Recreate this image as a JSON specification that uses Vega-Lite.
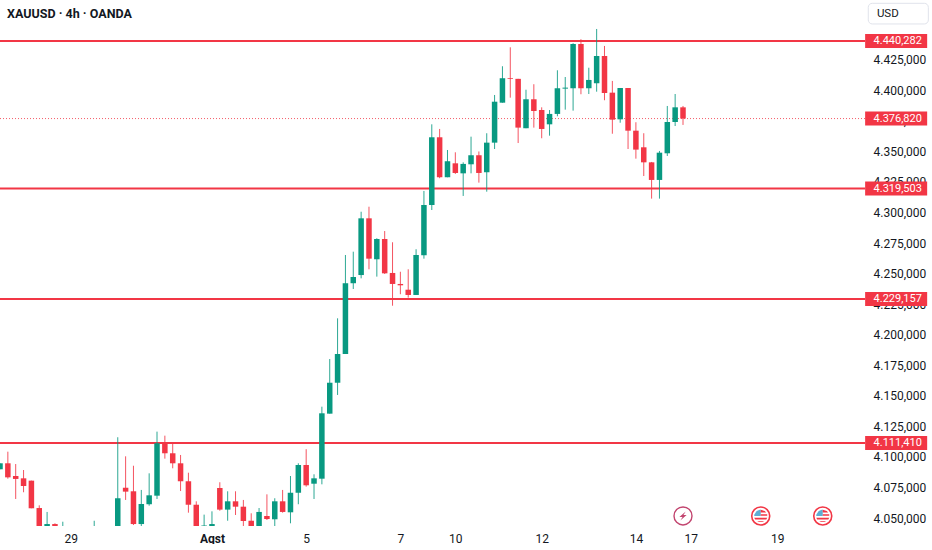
{
  "$schema": "https://vega.github.io/schema/vega-lite/v6.json",
  "width": 862,
  "height": 526,
  "padding": {"left": -1, "top": 0, "right": 0, "bottom": 0},
  "autosize": {"type": "pad"},
  "background": "#ffffff",
  "config": {"view": {"stroke": null}, "font": "Roboto"},
  "resolve": {"axis": {"x": "independent", "y": "independent"}},
  "datasets": {
    "candles": [
      {"i":0,"open":4089.9,"high":4094.8,"low":4089.9,"close":4094.8},
      {"i":1,"open":4094.8,"high":4104.3,"low":4082.2,"close":4083.3},
      {"i":2,"open":4084.4,"high":4094.2,"low":4065.6,"close":4082.0},
      {"i":3,"open":4082.5,"high":4089.3,"low":4071.1,"close":4076.2},
      {"i":4,"open":4080.6,"high":4080.6,"low":4058.0,"close":4058.0},
      {"i":5,"open":4058.2,"high":4060.4,"low":4039.4,"close":4041.9},
      {"i":6,"open":4041.9,"high":4055.0,"low":4041.0,"close":4045.1},
      {"i":7,"open":4045.1,"high":4045.7,"low":4041.0,"close":4041.9},
      {"i":8,"open":4037.0,"high":4047.0,"low":4035.3,"close":4040.2},
      {"i":12,"open":4036.1,"high":4047.8,"low":4034.5,"close":4039.4},
      {"i":15,"open":4038.6,"high":4116.1,"low":4037.0,"close":4066.2},
      {"i":16,"open":4074.8,"high":4100.5,"low":4064.8,"close":4071.6},
      {"i":17,"open":4071.9,"high":4092.8,"low":4044.3,"close":4045.1},
      {"i":18,"open":4045.1,"high":4073.0,"low":4042.9,"close":4061.5},
      {"i":19,"open":4061.3,"high":4086.6,"low":4060.1,"close":4068.6},
      {"i":20,"open":4068.3,"high":4120.7,"low":4065.6,"close":4111.2},
      {"i":21,"open":4111.2,"high":4117.4,"low":4098.6,"close":4103.0},
      {"i":22,"open":4103.0,"high":4111.2,"low":4090.7,"close":4094.8},
      {"i":23,"open":4094.8,"high":4101.6,"low":4072.1,"close":4080.1},
      {"i":24,"open":4080.1,"high":4087.1,"low":4054.4,"close":4060.9},
      {"i":25,"open":4060.9,"high":4063.7,"low":4039.4,"close":4041.0},
      {"i":26,"open":4042.9,"high":4052.8,"low":4042.7,"close":4043.9},
      {"i":27,"open":4042.7,"high":4055.5,"low":4042.3,"close":4045.1},
      {"i":28,"open":4074.6,"high":4079.3,"low":4056.0,"close":4056.9},
      {"i":29,"open":4056.9,"high":4071.9,"low":4047.8,"close":4063.7},
      {"i":30,"open":4063.7,"high":4071.9,"low":4052.5,"close":4059.3},
      {"i":31,"open":4059.3,"high":4064.8,"low":4043.5,"close":4047.6},
      {"i":32,"open":4047.8,"high":4053.9,"low":4040.2,"close":4041.9},
      {"i":33,"open":4041.9,"high":4058.2,"low":4040.2,"close":4055.0},
      {"i":34,"open":4051.7,"high":4069.4,"low":4048.4,"close":4049.2},
      {"i":35,"open":4049.0,"high":4066.2,"low":4042.9,"close":4063.7},
      {"i":36,"open":4063.7,"high":4073.0,"low":4054.4,"close":4055.0},
      {"i":37,"open":4054.7,"high":4084.4,"low":4045.7,"close":4070.7},
      {"i":38,"open":4070.7,"high":4094.8,"low":4061.3,"close":4093.4},
      {"i":39,"open":4093.4,"high":4106.3,"low":4075.7,"close":4076.8},
      {"i":40,"open":4078.1,"high":4085.8,"low":4065.6,"close":4082.5},
      {"i":41,"open":4082.2,"high":4141.1,"low":4077.6,"close":4135.7},
      {"i":42,"open":4135.4,"high":4180.1,"low":4135.4,"close":4160.7},
      {"i":43,"open":4160.7,"high":4213.4,"low":4150.7,"close":4184.2},
      {"i":44,"open":4184.2,"high":4265.2,"low":4184.2,"close":4242.1},
      {"i":45,"open":4242.1,"high":4267.9,"low":4237.4,"close":4247.2},
      {"i":46,"open":4248.8,"high":4300.6,"low":4246.1,"close":4295.2},
      {"i":47,"open":4295.2,"high":4304.7,"low":4253.5,"close":4262.2},
      {"i":48,"open":4261.7,"high":4278.9,"low":4247.5,"close":4278.3},
      {"i":49,"open":4278.3,"high":4284.8,"low":4249.7,"close":4250.2},
      {"i":50,"open":4250.5,"high":4275.6,"low":4223.7,"close":4241.5},
      {"i":51,"open":4241.5,"high":4251.5,"low":4233.1,"close":4240.4},
      {"i":52,"open":4236.8,"high":4253.5,"low":4230.3,"close":4232.5},
      {"i":53,"open":4232.5,"high":4269.9,"low":4232.5,"close":4265.2},
      {"i":54,"open":4265.0,"high":4317.6,"low":4262.2,"close":4306.1},
      {"i":55,"open":4306.1,"high":4372.1,"low":4302.0,"close":4361.5},
      {"i":56,"open":4361.5,"high":4368.3,"low":4328.0,"close":4328.8},
      {"i":57,"open":4328.8,"high":4351.1,"low":4328.8,"close":4341.9},
      {"i":58,"open":4340.2,"high":4349.2,"low":4331.5,"close":4332.3},
      {"i":59,"open":4332.0,"high":4341.0,"low":4313.5,"close":4339.7},
      {"i":60,"open":4339.4,"high":4362.0,"low":4332.0,"close":4346.8},
      {"i":61,"open":4346.8,"high":4349.9,"low":4324.4,"close":4332.3},
      {"i":62,"open":4332.9,"high":4364.8,"low":4317.0,"close":4357.1},
      {"i":63,"open":4357.1,"high":4396.1,"low":4351.9,"close":4390.6},
      {"i":64,"open":4389.8,"high":4419.6,"low":4389.8,"close":4409.8},
      {"i":65,"open":4409.8,"high":4435.1,"low":4393.9,"close":4409.2},
      {"i":66,"open":4409.3,"high":4409.3,"low":4356.8,"close":4369.4},
      {"i":67,"open":4368.9,"high":4400.4,"low":4368.9,"close":4392.6},
      {"i":68,"open":4392.6,"high":4404.9,"low":4369.4,"close":4383.0},
      {"i":69,"open":4383.8,"high":4386.0,"low":4360.7,"close":4368.3},
      {"i":70,"open":4372.1,"high":4383.8,"low":4362.8,"close":4380.6},
      {"i":71,"open":4380.6,"high":4416.3,"low":4378.7,"close":4401.6},
      {"i":72,"open":4401.3,"high":4410.8,"low":4384.1,"close":4402.1},
      {"i":73,"open":4401.6,"high":4438.4,"low":4383.3,"close":4437.8},
      {"i":74,"open":4437.8,"high":4441.7,"low":4396.7,"close":4401.6},
      {"i":75,"open":4401.6,"high":4418.4,"low":4396.9,"close":4408.4},
      {"i":76,"open":4405.7,"high":4450.1,"low":4398.8,"close":4428.0},
      {"i":77,"open":4428.0,"high":4436.2,"low":4391.8,"close":4397.7},
      {"i":78,"open":4398.0,"high":4407.6,"low":4364.4,"close":4375.9},
      {"i":79,"open":4376.2,"high":4401.8,"low":4373.4,"close":4401.8},
      {"i":80,"open":4401.8,"high":4401.8,"low":4351.9,"close":4366.9},
      {"i":81,"open":4366.9,"high":4373.8,"low":4344.0,"close":4351.4},
      {"i":82,"open":4353.3,"high":4364.8,"low":4329.8,"close":4341.0},
      {"i":83,"open":4341.0,"high":4341.3,"low":4311.3,"close":4326.6},
      {"i":84,"open":4326.6,"high":4350.3,"low":4311.3,"close":4348.9},
      {"i":85,"open":4348.4,"high":4387.1,"low":4346.2,"close":4374.0},
      {"i":86,"open":4374.0,"high":4396.9,"low":4370.7,"close":4386.0},
      {"i":87,"open":4386.0,"high":4387.1,"low":4371.6,"close":4376.82}
    ],
    "levels": [
      {"price":4440.282,"label":"4.440,282"},
      {"price":4319.503,"label":"4.319,503"},
      {"price":4229.157,"label":"4.229,157"},
      {"price":4111.41,"label":"4.111,410"}
    ],
    "last": [{"price":4376.82,"label":"4.376,820"}],
    "flags": [{"i":96.9},{"i":104.8}],
    "bolt": [{"i":87}]
  },
  "data": {"name": "candles"},
  "layer": [
    {
      "data": {"name": "levels"},
      "mark": {"type": "rule", "color": "#f23645", "strokeWidth": 2, "clip": false},
      "encoding": {
        "x": {"datum": 0, "type": "quantitative", "axis": null},
        "x2": {"datum": 110.2},
        "y": {"field": "price", "type": "quantitative", "axis": null}
      }
    },
    {
      "data": {"name": "last"},
      "mark": {"type": "rule", "stroke": "#f23645", "strokeWidth": 1, "strokeDash": [1, 2], "opacity": 0.8},
      "encoding": {
        "x": {"datum": 0, "type": "quantitative", "axis": null},
        "x2": {"datum": 110.2},
        "y": {"field": "price", "type": "quantitative", "axis": null}
      }
    },
    {
      "mark": {"type": "rule", "strokeWidth": 1, "clip": true, "opacity": 0.85},
      "encoding": {
        "x": {
          "field": "i",
          "type": "quantitative",
          "title": null,
          "scale": {"domain": [0, 109.8], "nice": false, "zero": false, "padding": 0},
          "axis": {
            "orient": "bottom",
            "values": [9, 27, 39, 51, 58, 69, 81, 88, 99],
            "labelExpr": "['29','Agst','5','7','10','12','14','17','19'][indexof([9,27,39,51,58,69,81,88,99],datum.value)]",
            "domain": false,
            "ticks": false,
            "grid": false,
            "labelPadding": 7,
            "labelFontSize": 12,
            "labelColor": "#131722",
            "labelFont": "Roboto",
            "labelOverlap": false,
            "labelFontWeight": {"condition": {"test": "datum.value == 27", "value": "bold"}, "value": "normal"}
          }
        },
        "y": {
          "field": "low",
          "type": "quantitative",
          "title": null,
          "scale": {"domain": [4043.5, 4473.8], "nice": false, "zero": false},
          "axis": {
            "orient": "right",
            "values": [4050, 4075, 4100, 4125, 4150, 4175, 4200, 4225, 4250, 4275, 4300, 4325, 4350, 4375, 4400, 4425],
            "labelExpr": "replace(replace(replace(format(datum.value, ',.3f'), ',', '#'), '.', ','), '#', '.')",
            "domain": false,
            "ticks": false,
            "grid": false,
            "labelPadding": 11,
            "labelFontSize": 12,
            "labelColor": "#131722",
            "labelFont": "Roboto",
            "labelOverlap": false
          }
        },
        "y2": {"field": "high"},
        "color": {
          "condition": {"test": "datum.open < datum.close", "value": "#089981"},
          "value": "#f23645"
        }
      }
    },
    {
      "mark": {"type": "bar", "size": 5.5, "clip": true},
      "encoding": {
        "x": {"field": "i", "type": "quantitative", "axis": null, "scale": {"padding": 0}},
        "y": {"field": "open", "type": "quantitative", "axis": null},
        "y2": {"field": "close"},
        "color": {
          "condition": {"test": "datum.open < datum.close", "value": "#089981"},
          "value": "#f23645"
        }
      }
    },
    {
      "data": {"name": "levels"},
      "mark": {"type": "rule", "color": "#f23645", "strokeWidth": 14, "strokeCap": "butt", "clip": false},
      "encoding": {
        "x": {"datum": 110.2, "type": "quantitative", "axis": null},
        "x2": {"datum": 118.1},
        "y": {"field": "price", "type": "quantitative", "axis": null}
      }
    },
    {
      "data": {"name": "last"},
      "mark": {"type": "rule", "color": "#f23645", "strokeWidth": 14, "strokeCap": "butt", "clip": false},
      "encoding": {
        "x": {"datum": 110.2, "type": "quantitative", "axis": null},
        "x2": {"datum": 118.1},
        "y": {"field": "price", "type": "quantitative", "axis": null}
      }
    },
    {
      "data": {"name": "levels"},
      "mark": {"type": "text", "color": "#ffffff", "font": "Roboto", "fontSize": 11, "align": "center", "baseline": "middle", "clip": false},
      "encoding": {
        "x": {"datum": 114.35, "type": "quantitative", "axis": null},
        "y": {"field": "price", "type": "quantitative", "axis": null},
        "text": {"field": "label"}
      }
    },
    {
      "data": {"name": "last"},
      "mark": {"type": "text", "color": "#ffffff", "font": "Roboto", "fontSize": 11, "align": "center", "baseline": "middle", "clip": false},
      "encoding": {
        "x": {"datum": 114.35, "type": "quantitative", "axis": null},
        "y": {"field": "price", "type": "quantitative", "axis": null},
        "text": {"field": "label"}
      }
    },
    {
      "data": {"values": [{"name": "XAUUSD · 4h · OANDA"}]},
      "mark": {"type": "text", "color": "#131722", "font": "Roboto", "fontSize": 12.5, "fontWeight": "bold", "align": "left", "baseline": "middle"},
      "encoding": {
        "x": {"datum": 0.9, "type": "quantitative", "axis": null},
        "y": {"datum": 4462.4, "type": "quantitative", "axis": null},
        "text": {"field": "name"}
      }
    },
    {
      "data": {"values": [{"name": "USD"}]},
      "mark": {"type": "rect", "fill": "#ffffff", "stroke": "#e0e3eb", "strokeWidth": 1, "cornerRadius": 4, "clip": false},
      "encoding": {
        "x": {"datum": 110.6, "type": "quantitative", "axis": null},
        "x2": {"datum": 118.25},
        "y": {"datum": 4471.1, "type": "quantitative", "axis": null},
        "y2": {"datum": 4454.2}
      }
    },
    {
      "data": {"values": [{"name": "USD"}]},
      "mark": {"type": "text", "color": "#131722", "font": "Roboto", "fontSize": 11.5, "align": "left", "baseline": "middle", "clip": false},
      "encoding": {
        "x": {"datum": 111.7, "type": "quantitative", "axis": null},
        "y": {"datum": 4462.4, "type": "quantitative", "axis": null},
        "text": {"field": "name"}
      }
    },
    {
      "data": {"name": "flags"},
      "mark": {"type": "point", "shape": "circle", "size": 324, "filled": true, "fill": "#ffffff", "stroke": "#f23645", "strokeWidth": 1.6, "opacity": 1},
      "encoding": {
        "x": {"field": "i", "type": "quantitative", "axis": null},
        "y": {"datum": 4051.7, "type": "quantitative", "axis": null}
      }
    },
    {
      "data": {"name": "flags"},
      "mark": {"type": "point", "shape": "M-.72 0L-.72 -.15L-.45 -.55L-.1 -.68L0 -.68L0 0Z", "size": 324, "filled": true, "fill": "#5eaed4", "strokeWidth": 0, "opacity": 1},
      "encoding": {
        "x": {"field": "i", "type": "quantitative", "axis": null},
        "y": {"datum": 4051.7, "type": "quantitative", "axis": null}
      }
    },
    {
      "data": {"name": "flags"},
      "mark": {"type": "point", "shape": "M0 -.68L.45 -.55L.6 -.38L0 -.38ZM0 -.18L.72 -.18L.72 -.02L0 -.02ZM-.72 .2L.72 .2L.62 .4L-.62 .4ZM-.4 .58L.4 .58L.2 .68L-.2 .68Z", "size": 324, "filled": true, "fill": "#f23645", "strokeWidth": 0, "opacity": 1},
      "encoding": {
        "x": {"field": "i", "type": "quantitative", "axis": null},
        "y": {"datum": 4051.7, "type": "quantitative", "axis": null}
      }
    },
    {
      "data": {"name": "bolt"},
      "mark": {"type": "point", "shape": "circle", "size": 324, "filled": true, "fill": "#ffffff", "stroke": "#c2456f", "strokeWidth": 1.4, "opacity": 1},
      "encoding": {
        "x": {"field": "i", "type": "quantitative", "axis": null},
        "y": {"datum": 4051.7, "type": "quantitative", "axis": null}
      }
    },
    {
      "data": {"name": "bolt"},
      "mark": {"type": "point", "shape": "M.3 -.5L-.4 .1L-.05 .1L-.3 .5L.4 -.1L.05 -.1Z", "size": 324, "filled": true, "fill": "#c2456f", "strokeWidth": 0, "opacity": 1},
      "encoding": {
        "x": {"field": "i", "type": "quantitative", "axis": null},
        "y": {"datum": 4051.7, "type": "quantitative", "axis": null}
      }
    }
  ]
}
